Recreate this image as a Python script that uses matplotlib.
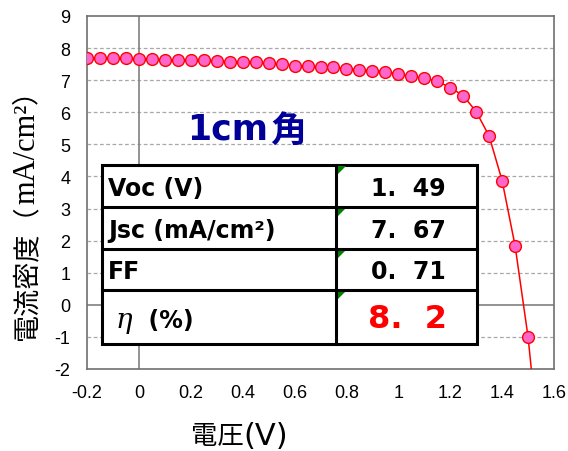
import matplotlib
matplotlib.use("Agg")
import matplotlib.pyplot as plt
from matplotlib.patches import Rectangle, Polygon
import numpy as np

plt.rcParams["axes.unicode_minus"] = False

voltage = [-0.2, -0.15, -0.1, -0.05, 0.0, 0.05, 0.1, 0.15, 0.2, 0.25, 0.3, 0.35,
           0.4, 0.45, 0.5, 0.55, 0.6, 0.65, 0.7, 0.75, 0.8, 0.85, 0.9, 0.95,
           1.0, 1.05, 1.1, 1.15, 1.2, 1.25, 1.3, 1.35, 1.4, 1.45, 1.5]
current = [7.70, 7.68, 7.68, 7.68, 7.66, 7.65, 7.64, 7.63, 7.63, 7.62, 7.59, 7.58,
           7.57, 7.56, 7.52, 7.50, 7.45, 7.44, 7.42, 7.40, 7.36, 7.32, 7.30, 7.27,
           7.19, 7.12, 7.06, 6.97, 6.77, 6.52, 6.02, 5.26, 3.87, 1.84, -1.00]
# fitted line continues below the axis
line_v_ext = [1.52]
line_j_ext = [-2.6]

x_ticks = [-0.2, 0.0, 0.2, 0.4, 0.6, 0.8, 1.0, 1.2, 1.4, 1.6]
x_tick_labels = ["-0.2", "0", "0.2", "0.4", "0.6", "0.8", "1", "1.2", "1.4", "1.6"]
y_ticks = [-2, -1, 0, 1, 2, 3, 4, 5, 6, 7, 8, 9]

table_values = ["1.  49", "7.  67", "0.  71", "8.  2"]

CJK = "Noto Sans CJK JP"

fig = plt.figure(figsize=(5.68, 4.52), dpi=100)
W, H = 568, 452


def fx(px):
    return px / W


def fy(py):
    return 1 - py / H


ax = fig.add_axes([fx(87), fy(370), (554 - 87) / W, (370 - 17) / H])
ax.set_xlim(-0.2, 1.6)
ax.set_ylim(-2, 9)
ax.set_xticks(x_ticks)
ax.set_xticklabels(x_tick_labels)
ax.set_yticks(y_ticks)
for t in ax.get_xticklabels() + ax.get_yticklabels():
    t.set_fontfamily("Liberation Sans")
    t.set_fontsize(13)
ax.tick_params(axis="y", length=0, pad=12)
ax.tick_params(axis="x", length=0, pad=11)
for y in y_ticks:
    if y not in (0, -2, 9):
        ax.axhline(y, color="#a8a8a8", lw=0.9, ls=(0, (3, 2)), zorder=1)
ax.axhline(0, color="#808080", lw=1.2, zorder=1)
ax.axvline(0, color="#808080", lw=1.2, zorder=1)
for s in ax.spines.values():
    s.set_color("#707070")
    s.set_linewidth(1.2)

ax.plot(voltage + line_v_ext, current + line_j_ext, color="red", lw=1.1, zorder=3)
ax.plot(voltage, current, ls="none", marker="o", ms=8.5, mfc="#ff66cc",
        mec="red", mew=1.0, zorder=4)

fig.canvas.draw()
renderer = fig.canvas.get_renderer()


def seq_h(parts, x0, yc):
    x = x0
    for s, kw in parts:
        t = fig.text(fx(x), fy(yc), s, ha="left", va="center", **kw)
        bb = t.get_window_extent(renderer)
        x += bb.width


def seq_v(parts, xc, y0):
    y = y0
    for s, kw in parts:
        t = fig.text(fx(xc), fy(y), s, ha="center", va="bottom", rotation=90, **kw)
        bb = t.get_window_extent(renderer)
        y -= bb.height


# "1cm角"
blue = "#000099"
t1 = fig.text(fx(187), fy(139), "1cm", ha="left", va="baseline", fontsize=25,
              fontweight="bold", color=blue, family="DejaVu Sans")
bb = t1.get_window_extent(renderer)
fig.text(bb.x1 / W + fx(2), fy(131), "角", ha="left", va="center", fontsize=26,
         fontweight="bold", color=blue, family=CJK)

# table (pixel-coordinate axes)
tax = fig.add_axes([fx(102), fy(345), (477 - 102) / W, (345 - 166) / H])
tax.set_xlim(102, 477)
tax.set_ylim(345, 166)
tax.axis("off")
tax.add_patch(Rectangle((102, 166), 375, 179, facecolor="white", edgecolor="black",
                        lw=2.2, clip_on=False))
rows = [166, 208, 250, 291, 345]
xs = 336
tax.plot([xs, xs], [166, 345], color="black", lw=2.2, clip_on=False)
for yy in rows[1:-1]:
    tax.plot([102, 477], [yy, yy], color="black", lw=2.2, clip_on=False)
for i in range(4):
    top, bot = rows[i], rows[i + 1]
    tax.add_patch(Polygon([[xs + 1, top + 1], [xs + 10, top + 1], [xs + 1, top + 10]],
                          closed=True, facecolor="#008000", edgecolor="none"))

bold = dict(fontsize=17, fontweight="bold", family="DejaVu Sans")
seq_h([("Voc (V)", bold)], 108, 189)
seq_h([("Jsc (mA/cm²)", bold)], 108, 231)
seq_h([("FF", bold)], 108, 272)
seq_h([("η", dict(fontsize=20, style="italic", family="DejaVu Serif")),
       ("  (%)", bold)], 115, 321)

vx = 408
for i in range(3):
    mid = (rows[i] + rows[i + 1]) / 2 + 2
    fig.text(fx(vx), fy(mid), table_values[i], ha="center", va="center", **bold)
fig.text(fx(407), fy(320), table_values[3], ha="center", va="center", fontsize=23,
         fontweight="bold", color="red", family="DejaVu Sans")

# y label
seq_v([("電流密度（", dict(fontsize=19.5, family=CJK)),
       ("mA/cm²", dict(fontsize=22, family="Liberation Serif")),
       ("）", dict(fontsize=19.5, family=CJK))], 27, 340)

# x label
seq_h([("電圧", dict(fontsize=19, family=CJK)),
       ("(V)", dict(fontsize=22, family="DejaVu Sans"))], 191, 437)

fig.savefig("out.png", dpi=100)
